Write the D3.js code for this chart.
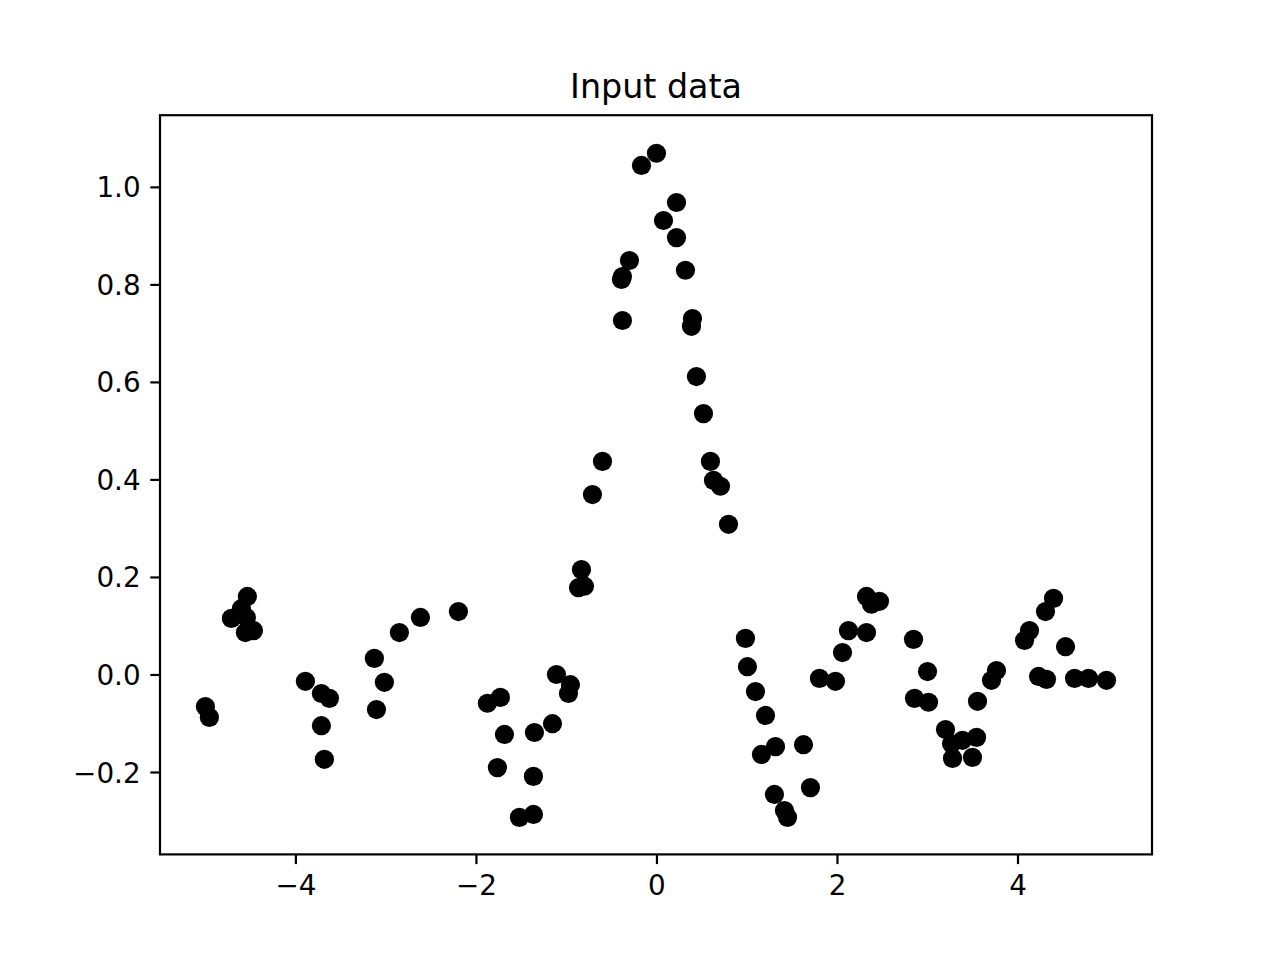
<!DOCTYPE html>
<html lang="en">
<head>
    <meta charset="UTF-8">
    <title>Input data</title>
    <style>
        body { margin: 0; background: #fff; }
        text { font-family: "DejaVu Sans", sans-serif; fill: #000; }
        .tick text { font-size: 27.8px; }
        .tick line { stroke: #000; stroke-width: 2.2px; }
    </style>
</head>
<body>
    <svg width="1280" height="960"></svg>

    <script src="https://d3js.org/d3.v7.min.js"></script>
    <script>
        // datos
        const xs = [
            -4.997, -4.953, -4.709, -4.598, -4.543, -4.554, -4.465, -4.532,
            -3.889, -3.712, -3.623, -3.712, -3.679,
            -3.125, -3.014, -3.102, -2.848, -2.615, -2.194,
            -1.873, -1.729, -1.684, -1.762, -1.518, -1.363, -1.363, -1.352,
            -1.152, -1.108, -0.953, -0.975,
            -0.831, -0.864, -0.798, -0.709, -0.598,
            -0.377, -0.377, -0.388, -0.299, -0.166, 0.000,
            0.078, 0.222, 0.222, 0.321, 0.399, 0.388, 0.443, 0.521,
            0.598, 0.632, 0.709, 0.798,
            0.986, 1.008, 1.097, 1.208, 1.163, 1.319, 1.307, 1.418, 1.452,
            1.629, 1.706, 1.806, 1.983, 2.061, 2.127, 2.327, 2.327, 2.382, 2.471,
            2.848, 3.003, 2.859, 3.014, 3.202, 3.269, 3.391, 3.546, 3.280, 3.501,
            3.557, 3.712, 3.767, 4.078, 4.133, 4.310, 4.399, 4.532,
            4.233, 4.321, 4.632, 4.787, 4.986
        ];
        const ys = [
            -0.066, -0.088, 0.115, 0.135, 0.117, 0.086, 0.090, 0.160,
            -0.014, -0.039, -0.049, -0.105, -0.174,
            0.033, -0.016, -0.072, 0.086, 0.117, 0.129,
            -0.059, -0.047, -0.123, -0.191, -0.293, -0.287, -0.209, -0.119,
            -0.101, 0.000, -0.021, -0.039,
            0.215, 0.178, 0.181, 0.369, 0.437,
            0.726, 0.816, 0.810, 0.849, 1.044, 1.069,
            0.931, 0.968, 0.896, 0.829, 0.730, 0.714, 0.611, 0.535,
            0.437, 0.398, 0.386, 0.308,
            0.074, 0.016, -0.035, -0.084, -0.164, -0.148, -0.246, -0.279, -0.293,
            -0.144, -0.232, -0.008, -0.014, 0.045, 0.090, 0.086, 0.160, 0.144, 0.150,
            0.072, 0.006, -0.049, -0.057, -0.113, -0.142, -0.135, -0.129, -0.172, -0.170,
            -0.055, -0.012, 0.008, 0.070, 0.090, 0.129, 0.156, 0.057,
            -0.004, -0.010, -0.008, -0.008, -0.012
        ];
        const xTicks = [-4, -2, 0, 2, 4];
        const yTicks = [-0.2, 0.0, 0.2, 0.4, 0.6, 0.8, 1.0];
        const xLimits = [-5.5, 5.49];
        const yLimits = [-0.369, 1.147];

        const puntos = xs.map((x, i) => ({ x: x, y: ys[i] }));

        // area de los ejes (como matplotlib 6.4x4.8 a 200 dpi)
        const axLeft = 160, axRight = 1152, axTop = 115.2, axBottom = 854.4;

        const svg = d3.select('svg');

        const xScale = d3.scaleLinear().domain(xLimits).range([axLeft, axRight]);
        const yScale = d3.scaleLinear().domain(yLimits).range([axBottom, axTop]);

        const fmt = d => (d < 0 ? '\u2212' : '') + Math.abs(d);
        const fmtY = d => (d < 0 ? '\u2212' : '') + Math.abs(d).toFixed(1);

        // puntos
        svg.append('g')
            .selectAll('circle')
            .data(puntos)
            .enter().append('circle')
            .attr('cx', d => xScale(d.x))
            .attr('cy', d => yScale(d.y))
            .attr('r', 9.6)
            .attr('fill', '#000');

        // eje x
        const gx = svg.append('g')
            .attr('transform', `translate(0,${axBottom})`)
            .call(d3.axisBottom(xScale).tickValues(xTicks).tickFormat(fmt)
                .tickSize(9.7).tickPadding(9.7));
        gx.select('.domain').remove();
        gx.selectAll('.tick text').attr('dy', '0.78em');

        // eje y
        const gy = svg.append('g')
            .attr('transform', `translate(${axLeft},0)`)
            .call(d3.axisLeft(yScale).tickValues(yTicks).tickFormat(fmtY)
                .tickSize(9.7).tickPadding(9.7));
        gy.select('.domain').remove();
        gy.selectAll('.tick text').attr('dy', '0.36em');

        // marco
        svg.append('rect')
            .attr('x', axLeft)
            .attr('y', axTop)
            .attr('width', axRight - axLeft)
            .attr('height', axBottom - axTop)
            .attr('fill', 'none')
            .attr('stroke', '#000')
            .attr('stroke-width', 2.2);

        // titulo
        svg.append('text')
            .attr('x', (axLeft + axRight) / 2)
            .attr('y', 98)
            .attr('text-anchor', 'middle')
            .style('font-size', '33.3px')
            .text('Input data');
    </script>
</body>
</html>
